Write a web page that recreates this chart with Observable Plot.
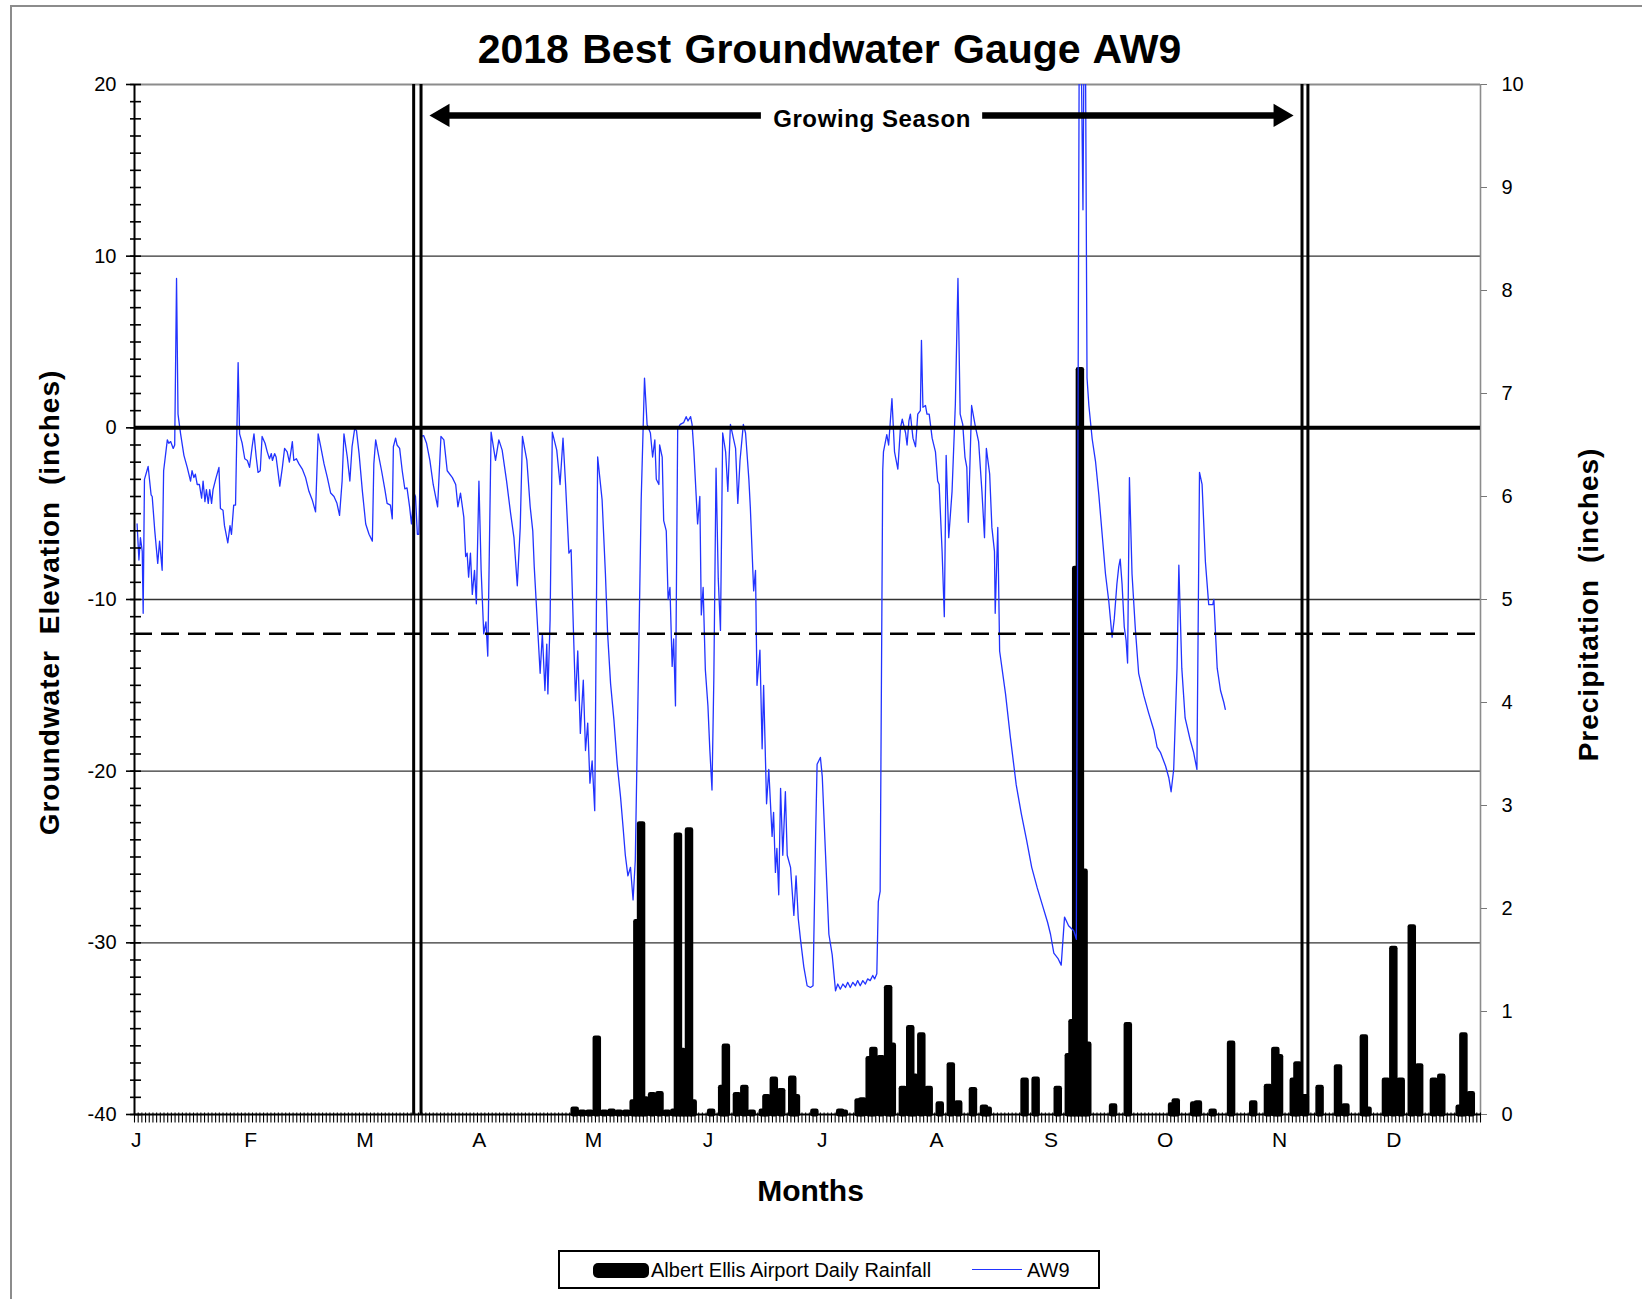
<!DOCTYPE html>
<html>
<head>
<meta charset="utf-8">
<script src="https://cdn.jsdelivr.net/npm/d3@7"></script>
<script src="https://cdn.jsdelivr.net/npm/@observablehq/plot@0.6"></script>
<style>
  html, body { margin: 0; padding: 0; background: #fff; }
  body { font-family: "Liberation Sans", Arial, sans-serif; }
  #wrap { position: relative; width: 1642px; height: 1299px; overflow: hidden; background: #fff; }
  #frame { position: absolute; left: 10px; top: 5px; width: 1700px; height: 1400px; border: 2px solid #8c8c8c; box-sizing: border-box; pointer-events: none; }
  #chart { position: absolute; left: 0; top: 0; }
  #title { position: absolute; left: 0; top: 29px; width: 1659px; text-align: center; font-weight: bold; font-size: 41px; line-height: 41px; color: #000; white-space: nowrap; word-spacing: 2px; }
  #legend { position: absolute; left: 558px; top: 1250px; width: 542px; height: 39px; border: 2px solid #000; box-sizing: border-box; background: #fff; }
  #legend .sw { position: absolute; left: 33px; top: 11px; width: 56px; height: 15px; background: #000; border-radius: 5px; }
  #legend .lab { position: absolute; top: 7px; font-size: 20px; line-height: 22px; color: #000; white-space: nowrap; }
  #legend .ln { position: absolute; left: 412px; top: 17px; width: 50px; height: 0; border-top: 1.5px solid #2233ff; }
</style>
</head>
<body>
<div id="wrap">
  <div id="chart"></div>
  <div id="title"></div>
  <div id="legend">
    <div class="sw"></div>
    <div class="lab" id="lab1" style="left:91px"></div>
    <div class="ln"></div>
    <div class="lab" id="lab2" style="left:467px"></div>
  </div>
  <div id="frame"></div>
</div>
<script>
// ---------------- data ----------------
const chartTitle = "2018 Best Groundwater Gauge AW9";
const yTitleLeft = "Groundwater Elevation (inches)";
const yTitleRight = "Precipitation (inches)";
const xTitle = "Months";
const rainName = "Albert Ellis Airport Daily Rainfall";
const wellName = "AW9";

const monthLabels = ["J","F","M","A","M","J","J","A","S","O","N","D"];
const leftTicks = [20, 10, 0, -10, -20, -30, -40];
const rightTicks = [0,1,2,3,4,5,6,7,8,9,10];
const gridLevels = [10, -10, -20, -30];
const thresholdLevel = [-12];
const seasonLines = [75.7, 77.7, 316.6, 318.2];           // double lines (day index)
const seasonArrow = {from: 80, to: 314.3, level: 18.2, labelDay: 200, gap: 30, label: "Growing Season"};

// AW9 groundwater level readings [day index, inches]
const aw9Winter = [
 [0.7,-5.6],[1.2,-7.7],[1.6,-6.4],[2.1,-7.2],[2.35,-10.8],[2.7,-3.0],[3.7,-2.25],[4.5,-3.9],[4.8,-4.0],[5.5,-6.0],
 [6.3,-7.9],[6.8,-6.6],[7.5,-8.3],[7.9,-2.5],[8.9,-0.7],[9.3,-0.9],[9.8,-0.8],[10.5,-1.2],[10.9,-1.0],[11.4,8.7],
 [11.8,0.8],[12.5,-0.35],[13.4,-1.6],[14.3,-2.3],[15.2,-3.1],[15.6,-2.5],[16.1,-2.9],[16.5,-2.7],[17.0,-3.3],[17.6,-3.3],
 [18.2,-4.1],[18.6,-3.1],[19.1,-4.3],[19.5,-3.6],[20.0,-4.4],[20.4,-3.6],[20.9,-4.4],[21.3,-3.6],[22.0,-3.0],[22.9,-2.3],
 [23.3,-4.7],[24.0,-4.8],[24.4,-5.7],[25.3,-6.7],[25.9,-5.7],[26.3,-6.2],[26.9,-4.5],[27.4,-4.5],[28.1,3.8],[28.5,-0.35],
 [29.2,-0.9],[29.9,-1.8],[30.6,-1.9],[31.2,-2.3],[31.9,-1.1],[32.4,-0.35],[33.0,-1.7],[33.5,-2.6],[34.1,-2.5],[34.6,-0.5],
 [35.4,-0.9],[36.0,-1.4],[36.6,-1.8],[37.1,-1.5],[37.4,-1.9],[38.0,-1.5],[38.4,-1.7],[39.4,-3.4],[40.1,-2.3],[40.7,-1.2],
 [41.4,-1.4],[42.0,-2.0],[42.8,-0.8],[43.2,-1.9],[43.9,-1.8],[44.6,-2.1],[45.5,-2.4],[46.4,-2.9],[47.3,-3.7],[48.2,-4.2],
 [49.1,-4.9],[49.8,-0.35],[50.5,-1.1],[51.4,-2.1],[52.3,-2.9],[53.2,-3.8],[54.1,-4.0],[54.9,-4.4],[55.6,-5.1],[56.3,-3.1],
 [56.8,-0.35],[57.7,-1.7],[58.4,-3.1],[59.0,-1.1],[59.7,-0.06],[60.2,-0.16],[60.9,-1.5],[61.8,-3.7],[62.7,-5.6],[63.6,-6.2],
 [64.5,-6.6],[64.9,-2.1],[65.4,-0.7],[66.1,-1.5],[67.0,-2.5],[67.9,-3.6],[68.5,-4.4],[69.4,-4.5],[69.9,-5.3],[70.2,-1.1],
 [70.8,-0.6],[71.2,-1.0],[71.9,-1.2],[72.6,-2.5],[73.3,-3.55],[73.9,-3.5],[74.6,-4.6],[75.1,-5.6],[75.8,-3.8],[76.2,-4.0],
 [76.7,-6.2],[77.1,-6.2]
];
const aw9Spring = [
 [77.7,-0.5],[78.4,-0.45],[79.2,-0.9],[80.1,-1.9],[81.0,-3.3],[82.2,-4.6],[83.1,-0.5],[83.9,-0.7],[84.8,-2.5],[86.2,-2.9],
 [87.1,-3.3],[87.7,-4.6],[88.4,-3.8],[89.3,-5.2],[89.8,-7.5],[90.2,-7.3],[90.6,-8.7],[91.1,-7.3],[91.6,-9.7],[92.2,-8.3],
 [92.7,-10.25],[93.4,-3.1],[94.0,-8.3],[94.7,-12.0],[95.3,-11.3],[95.8,-13.3],[96.7,-0.25],[97.9,-1.9],[98.8,-0.7],[99.7,-1.3],
 [100.9,-3.1],[102.0,-5.0],[102.9,-6.4],[103.8,-9.2],[104.6,-5.8],[105.2,-0.5],[106.4,-1.9],[107.3,-4.6],[108.0,-6.0],[108.4,-8.1],
 [109.1,-10.8],[110.0,-14.3],[110.6,-12.0],[111.3,-15.3],[111.8,-12.6],[112.1,-15.5],[112.7,-11.2],[113.3,-0.25],[114.5,-1.3],[115.4,-3.3],
 [116.2,-0.6],[116.9,-3.3],[117.8,-7.3],[118.4,-7.1],[119.0,-11.6],[119.6,-15.9],[120.2,-13.0],[120.9,-17.8],[121.7,-14.7],[122.3,-18.8],
 [122.9,-17.2],[123.5,-20.7],[124.1,-19.4],[124.8,-22.3],[125.6,-1.7],[126.8,-4.2],[127.7,-8.5],[128.3,-12.0],[129.1,-14.9],[130.0,-17.0],
 [130.9,-19.6],[131.8,-21.5],[132.5,-23.3],[133.1,-24.9],[133.8,-26.1],[134.5,-25.6],[135.2,-27.5],[135.8,-25.2],[136.8,-12.3],[137.4,-4.2],
 [138.3,2.9],[139.0,0.2],[139.9,-0.3],[140.5,-1.7],[141.1,-0.7],[141.5,-3.0],[142.2,-3.3],[142.4,-1.0],[143.1,-1.7],[143.5,-5.4],
 [144.2,-6.0],[144.7,-10.0],[145.2,-9.3],[145.8,-13.9],[146.2,-12.3],[146.7,-16.2],[147.3,-0.05],[148.0,0.2],[148.9,0.3],[149.6,0.65],
 [150.1,0.4],[150.8,0.65],[151.2,0.2],[151.7,-1.4],[152.7,-5.6],[153.3,-4.0],[153.7,-10.9],[154.2,-9.3],[154.8,-14.1],[155.5,-16.2],
 [156.0,-18.7],[156.6,-21.1],[157.1,-14.6],[157.7,-2.35],[158.3,-8.8],[158.9,-11.8],[159.5,-0.3],[160.3,-1.4],[160.9,-3.7],[161.6,0.2],
 [162.5,-0.7],[163.0,-1.2],[163.6,-4.4],[164.2,-1.9],[165.1,0.2],[165.7,-0.3],[166.6,-3.0],[167.0,-4.65]
];
const aw9Summer = [
 [167.9,-9.5],[168.4,-8.3],[168.8,-15.0],[169.6,-12.95],[170.2,-18.7],[170.6,-15.0],[171.4,-21.9],[172.0,-19.9],[172.9,-23.8],[173.3,-22.4],
 [173.8,-25.9],[174.2,-24.5],[174.7,-27.2],[175.2,-21.0],[175.8,-24.9],[176.5,-21.2],[177.0,-24.9],[177.9,-25.6],[178.8,-28.4],[179.4,-26.1],
 [180.0,-28.6],[180.6,-29.8],[181.5,-31.4],[182.4,-32.5],[183.3,-32.6],[184.0,-32.5],[184.7,-23.8],[185.1,-19.6],[186.0,-19.2],[186.5,-20.3],
 [187.4,-24.9],[188.3,-29.5],[189.2,-30.7],[190.1,-32.8],[190.7,-32.4],[191.4,-32.7],[192.1,-32.4],[192.8,-32.6],[193.4,-32.3],[194.1,-32.6],
 [194.8,-32.3],[195.5,-32.5],[196.1,-32.2],[196.8,-32.5],[197.5,-32.2],[198.2,-32.4],[198.8,-32.1],[199.5,-32.2],[200.2,-31.9],[200.7,-32.1],
 [201.3,-31.8],[201.7,-27.6],[202.2,-27.0],[202.9,-2.5],[203.1,-1.4],[204.0,-0.4],[204.5,-1.0],[205.4,1.7],[206.1,-1.4],[207.0,-2.4],
 [207.7,0.0],[208.2,0.5],[209.1,-0.3],[209.5,-1.0],[210.0,0.4],[210.4,0.8],[211.1,-0.6],[211.8,-1.1],[212.4,0.8],[213.1,1.0],
 [213.4,5.1],[213.8,1.2],[214.5,1.3],[214.9,0.8],[215.5,0.8],[216.3,-0.6],[217.2,-1.4],[217.8,-3.1],[218.2,-3.3],[219.0,-7.2],
 [219.6,-11.0],[220.1,-1.6],[220.8,-6.4],[221.7,-3.7],[222.6,1.4],[223.3,8.7],[223.9,0.8],[224.6,0.2],[225.2,-1.7],[225.7,-2.3],
 [226.1,-5.5],[227.0,1.3],[228.0,0.1],[228.9,-0.8],[229.8,-3.7],[230.5,-6.4],[231.0,-1.2],[231.9,-2.7],[232.5,-5.8],[233.2,-7.2],
 [233.4,-10.8],[234.1,-5.8],[234.6,-13.0]
];
const aw9Autumn = [
 [236.2,-15.5],[237.5,-18.0],[239.1,-20.8],[240.5,-22.5],[241.9,-24.0],[243.3,-25.6],[244.8,-26.8],[246.2,-27.8],[247.6,-28.8],[248.4,-29.5],
 [249.3,-30.6],[250.4,-30.9],[251.3,-31.3],[252.2,-28.5],[253.3,-29.0],[254.7,-29.3],[255.4,-29.8],[256.3,30],[257.2,12.7],[257.7,30],
 [258.3,2.9],[258.8,1.3],[259.7,-0.65],[260.6,-1.95],[261.5,-3.9],[262.4,-6.2],[263.3,-8.5],[264.2,-10.1],[265.1,-12.2],[265.7,-11.1],
 [266.4,-9.1],[266.9,-8.1],[267.3,-7.65],[267.8,-9.1],[268.4,-11.6],[268.9,-12.4],[269.3,-13.7],[269.8,-2.9],[270.5,-8.5],[271.4,-11.7],
 [272.3,-14.3],[273.7,-15.6],[275.0,-16.6],[276.4,-17.6],[277.3,-18.6],[278.2,-18.9],[279.6,-19.7],[280.5,-20.4],[281.1,-21.2],[281.8,-19.9],
 [282.7,-14.0],[283.2,-8.0],[284.0,-14.0],[284.9,-16.9],[286.3,-18.2],[287.2,-18.9],[288.1,-19.9],[288.8,-2.6],[289.5,-3.3],[290.4,-7.8],
 [291.3,-10.3],[292.4,-10.3],[292.7,-10.0],[293.6,-14.0],[294.5,-15.3],[295.4,-16.0],[295.8,-16.4]
];

// Albert Ellis Airport daily rainfall (day index, inches)
const rainDay = [119,121,123,125,127,129,131,133,135,136,137,138,140,142,144,146,147,148,149,150,
                 151,156,159,160,163,165,167,170,171,173,175,178,179,184,191,192,196,197,199,200,
                 202,204,205,208,210,211,213,215,218,221,223,227,230,231,241,244,250,253,254,255,
                 256,257,258,265,269,281,282,287,288,292,297,303,307,309,310,314,315,317,321,326,
                 328,333,334,339,341,343,346,348,352,354,359,360,362];
const rainInches = [0.05,0.02,0.02,0.74,0.02,0.03,0.02,0.02,0.12,1.87,2.82,0.15,0.19,0.2,0.02,0.03,2.71,0.62,0.15,2.76,
                    0.12,0.03,0.26,0.66,0.19,0.26,0.02,0.03,0.17,0.34,0.23,0.35,0.17,0.03,0.03,0.02,0.13,0.14,0.54,0.63,
                    0.55,1.23,0.67,0.25,0.84,0.37,0.77,0.25,0.1,0.48,0.11,0.24,0.07,0.05,0.33,0.34,0.25,0.57,0.9,5.3,
                    7.23,2.36,0.68,0.08,0.87,0.09,0.13,0.1,0.11,0.03,0.69,0.11,0.27,0.63,0.56,0.33,0.49,0.17,0.26,0.46,
                    0.08,0.75,0.05,0.33,1.61,0.33,1.82,0.47,0.33,0.37,0.07,0.77,0.2];

// ---------------- build ----------------
const W = 1642, H = 1299;
const mL = 134, mR = 162, mT = 84, mB = 185;
const dayPx = (W - mL - mR) / 365;
const levelPx = (H - mT - mB) / 60;
const toLeft = p => -40 + p * 6;           // precipitation 0..10 -> groundwater -40..20

const aw9 = [...aw9Winter, ...aw9Spring, ...aw9Summer, ...aw9Autumn].map(([day, level]) => ({day, level}));
const rain = rainDay.map((day, i) => ({day, inches: rainInches[i]}));
const dayTicks = d3.range(0, 366);
const monthTicks = monthLabels.map((m, i) => 31 * i + 0.5);
const monthOf = new Map(monthTicks.map((t, i) => [t, monthLabels[i]]));
const minorTicks = d3.range(-40, 21, 1);

const shafts = [
  {x1: seasonArrow.from + 4, x2: seasonArrow.labelDay - seasonArrow.gap, level: seasonArrow.level},
  {x1: seasonArrow.labelDay + seasonArrow.gap, x2: seasonArrow.to - 4, level: seasonArrow.level}
];
const headOffset = 13.3 / dayPx;

const fontFam = "'Liberation Sans', Arial, Helvetica, sans-serif";

const svg = Plot.plot({
  width: W, height: H,
  marginLeft: mL, marginRight: mR, marginTop: mT, marginBottom: mB,
  x: {domain: [0, 365], axis: null},
  y: {domain: [-40, 20], axis: null},
  style: {fontFamily: fontFam, background: "transparent", color: "#000", overflow: "visible"},
  marks: [
    // grid and frame
    Plot.ruleY(gridLevels, {stroke: "#333", strokeWidth: 1.3}),
    Plot.ruleY([20], {stroke: "#8c8c8c", strokeWidth: 2}),
    Plot.ruleX([365], {y1: -40, y2: 20, stroke: "#8c8c8c", strokeWidth: 1.6}),
    // rainfall bars
    Plot.rect(rain, {x1: d => d.day, x2: d => d.day + 1, y1: -40, y2: d => toLeft(d.inches),
      fill: "#000", stroke: "#000", strokeWidth: 4.8, strokeLinejoin: "round"}),
    // AW9 level
    Plot.line(aw9, {x: "day", y: "level", stroke: "#2233ff", strokeWidth: 1.3, clip: true}),
    // reference lines
    Plot.ruleY([0], {stroke: "#000", strokeWidth: 4}),
    Plot.ruleY(thresholdLevel, {stroke: "#000", strokeWidth: 2.5, strokeDasharray: "18,9"}),
    Plot.ruleX(seasonLines, {y1: -40, y2: 20, stroke: "#000", strokeWidth: 3}),
    // axes lines
    Plot.ruleX([0], {y1: -40, y2: 20, stroke: "#000", strokeWidth: 2}),
    Plot.ruleY([-40], {stroke: "#000", strokeWidth: 2}),
    // left minor ticks (crossing)
    Plot.ruleY(minorTicks, {x1: -4 / dayPx, x2: 7 / dayPx, stroke: "#000", strokeWidth: 1.6}),
    // bottom daily ticks
    Plot.ruleX(dayTicks, {y1: -40 + 1.5 / levelPx, y2: -40 - 8.5 / levelPx, stroke: "#000", strokeWidth: 1.1}),
    // left axis
    Plot.axisY({anchor: "left", ticks: leftTicks, tickFormat: v => String(v), tickSize: 8, tickPadding: 10, fontSize: 20, label: null, stroke: "#000", strokeWidth: 1.6}),
    // right axis (precipitation)
    Plot.axisY({anchor: "right", ticks: rightTicks.map(toLeft), tickFormat: v => String(Math.round((v + 40) / 6)),
      tickSize: 6, tickPadding: 15, fontSize: 20, label: null, stroke: "#777"}),
    // month labels
    Plot.axisX({ticks: monthTicks, tickFormat: t => monthOf.get(t), tickSize: 0, tickPadding: 18, fontSize: 21, label: null}),
    // axis titles
    Plot.text([yTitleLeft], {text: d => d, frameAnchor: "left", textAnchor: "middle", lineAnchor: "middle", dx: -84, dy: 3, rotate: -90, fontSize: 28, fontWeight: "bold"}),
    Plot.text([yTitleRight], {text: d => d, frameAnchor: "right", textAnchor: "middle", lineAnchor: "middle", dx: 109, dy: 5, rotate: -90, fontSize: 28, fontWeight: "bold"}),
    Plot.text([xTitle], {text: d => d, frameAnchor: "bottom", textAnchor: "middle", lineAnchor: "middle", dx: 3, dy: 77, fontSize: 30, fontWeight: "bold"}),
    // growing season annotation
    Plot.ruleY(shafts, {x1: "x1", x2: "x2", y: "level", stroke: "#000", strokeWidth: 6.5}),
    Plot.dot([seasonArrow], {x: d => d.from + headOffset, y: "level", symbol: "triangle", r: 8.6, rotate: -90, fill: "#000", stroke: "none"}),
    Plot.dot([seasonArrow], {x: d => d.to - headOffset, y: "level", symbol: "triangle", r: 8.6, rotate: 90, fill: "#000", stroke: "none"}),
    Plot.text([seasonArrow], {x: "labelDay", y: "level", text: "label", dy: 4, fontSize: 24, fontWeight: "bold"})
  ]
});

d3.select(svg).selectAll("text").each(function () {
  const t = this.textContent;
  if (t === yTitleLeft) d3.select(this).attr("letter-spacing", "1px").attr("word-spacing", "7px");
  if (t === yTitleRight) d3.select(this).attr("letter-spacing", "1px").attr("word-spacing", "7px");
  if (t === seasonArrow.label) d3.select(this).attr("letter-spacing", "0.6px");
});

document.getElementById("chart").appendChild(svg);
document.getElementById("title").textContent = chartTitle;
document.getElementById("lab1").textContent = rainName;
document.getElementById("lab2").textContent = wellName;
</script>
</body>
</html>
